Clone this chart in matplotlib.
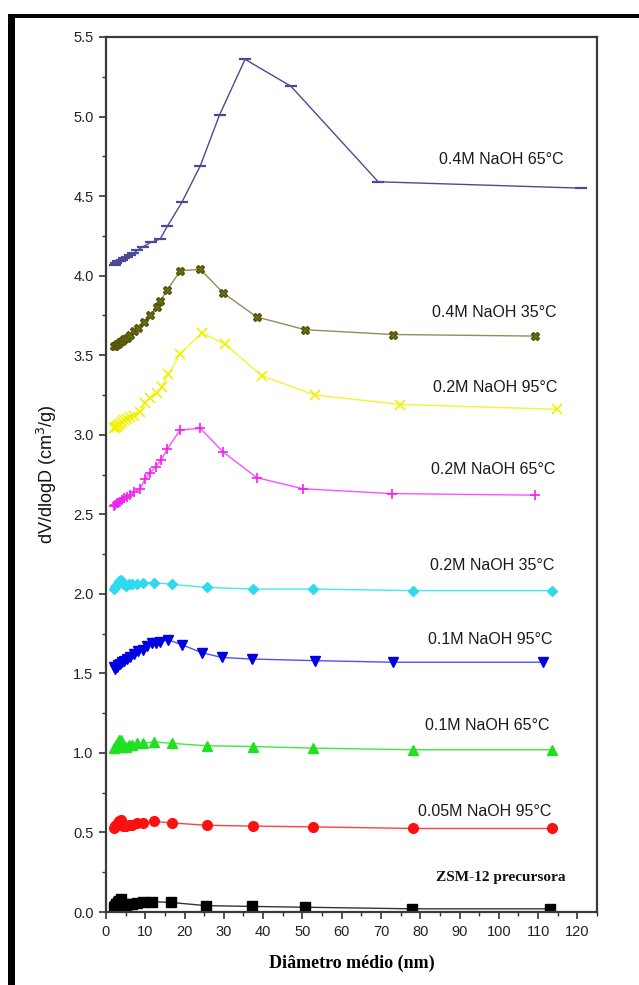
import matplotlib
matplotlib.use("Agg")
import matplotlib.pyplot as plt
from matplotlib.ticker import MultipleLocator, FormatStrFormatter
from matplotlib.patches import Rectangle

# ---------------- data ----------------
x_04_65 = [2.2, 2.5, 3.0, 3.5, 4.0, 4.6, 5.3, 6.1, 7.0, 8.0, 9.3, 11.5, 13.8, 15.6, 19.3, 24.0, 28.9, 35.4, 47.1, 69.3, 120.8]
y_04_65 = [4.07, 4.08, 4.09, 4.09, 4.10, 4.11, 4.12, 4.13, 4.14, 4.16, 4.18, 4.21, 4.23, 4.31, 4.46, 4.69, 5.01, 5.36, 5.19, 4.59, 4.55]

x_04_35 = [2.0, 2.3, 2.7, 3.1, 3.6, 4.1, 4.7, 5.4, 6.2, 7.1, 8.2, 9.7, 11.2, 12.9, 13.8, 15.6, 18.9, 24.0, 29.9, 38.4, 50.7, 73.0, 109.3]
y_04_35 = [3.56, 3.56, 3.57, 3.57, 3.58, 3.59, 3.60, 3.61, 3.63, 3.65, 3.67, 3.71, 3.75, 3.80, 3.84, 3.91, 4.03, 4.04, 3.89, 3.74, 3.66, 3.63, 3.62]

x_02_95 = [2.0, 2.3, 2.7, 3.1, 3.6, 4.1, 4.7, 5.4, 6.2, 7.1, 8.7, 9.9, 11.2, 12.9, 14.2, 15.9, 18.9, 24.4, 30.3, 39.7, 53.2, 74.9, 114.8]
y_02_95 = [3.04, 3.05, 3.05, 3.06, 3.07, 3.08, 3.09, 3.10, 3.11, 3.12, 3.14, 3.20, 3.23, 3.26, 3.30, 3.38, 3.51, 3.64, 3.57, 3.37, 3.25, 3.19, 3.16]

x_02_65 = [2.0, 2.3, 2.7, 3.1, 3.6, 4.1, 4.7, 5.4, 6.2, 7.1, 8.7, 9.9, 11.2, 12.7, 14.0, 15.6, 18.9, 24.0, 29.9, 38.4, 50.2, 72.8, 109.3]
y_02_65 = [2.55, 2.56, 2.57, 2.57, 2.58, 2.59, 2.60, 2.61, 2.62, 2.64, 2.66, 2.72, 2.76, 2.80, 2.84, 2.91, 3.03, 3.04, 2.89, 2.73, 2.66, 2.63, 2.62]

x_02_35 = [2.0, 2.3, 2.6, 3.0, 3.4, 3.8, 4.4, 5.0, 5.8, 6.7, 7.8, 9.5, 12.1, 16.7, 25.6, 37.5, 52.7, 78.1, 113.5]
y_02_35 = [2.03, 2.04, 2.05, 2.07, 2.08, 2.09, 2.06, 2.05, 2.06, 2.06, 2.06, 2.07, 2.07, 2.06, 2.04, 2.03, 2.03, 2.02, 2.02]

x_01_95 = [2.0, 2.3, 2.7, 3.1, 3.6, 4.1, 4.7, 5.4, 6.2, 7.1, 8.2, 9.4, 10.5, 11.6, 12.7, 13.8, 15.9, 19.3, 24.4, 29.5, 37.1, 53.2, 73.0, 111.3]
y_01_95 = [1.54, 1.53, 1.54, 1.55, 1.56, 1.57, 1.58, 1.59, 1.60, 1.62, 1.64, 1.65, 1.67, 1.69, 1.69, 1.70, 1.71, 1.68, 1.63, 1.60, 1.59, 1.58, 1.57, 1.57]

x_01_65 = [2.0, 2.3, 2.6, 3.0, 3.4, 3.8, 4.4, 5.0, 5.8, 6.7, 7.8, 9.5, 12.1, 16.7, 25.6, 37.5, 52.7, 78.1, 113.5]
y_01_65 = [1.03, 1.04, 1.05, 1.07, 1.08, 1.08, 1.04, 1.04, 1.05, 1.05, 1.06, 1.06, 1.07, 1.06, 1.045, 1.04, 1.03, 1.02, 1.02]

x_005_95 = [2.0, 2.3, 2.6, 3.0, 3.4, 3.8, 4.4, 5.0, 5.8, 6.7, 7.8, 9.5, 12.1, 16.7, 25.6, 37.5, 52.7, 78.1, 113.5]
y_005_95 = [0.53, 0.54, 0.55, 0.56, 0.57, 0.58, 0.54, 0.54, 0.55, 0.55, 0.56, 0.56, 0.57, 0.56, 0.545, 0.54, 0.535, 0.525, 0.525]

x_zsm = [2.0, 2.3, 2.6, 3.0, 3.4, 3.8, 4.4, 5.0, 5.8, 6.7, 7.8, 9.5, 11.8, 16.5, 25.5, 37.2, 50.6, 77.8, 113.0]
y_zsm = [0.03, 0.04, 0.05, 0.06, 0.07, 0.08, 0.04, 0.04, 0.05, 0.05, 0.055, 0.06, 0.065, 0.06, 0.04, 0.035, 0.03, 0.02, 0.02]

labels = ["0.4M NaOH 65°C", "0.4M NaOH 35°C", "0.2M NaOH 95°C", "0.2M NaOH 65°C",
          "0.2M NaOH 35°C", "0.1M NaOH 95°C", "0.1M NaOH 65°C", "0.05M NaOH 95°C"]
label_y = [4.73, 3.77, 3.30, 2.78, 2.18, 1.71, 1.175, 0.63]
label_x = [116.5, 114.8, 114.8, 114.5, 114.2, 113.7, 113.0, 113.5]
zsm_label = "ZSM-12 precursora"

xlabel = "Diâmetro médio (nm)"
ylabel = "dV/dlogD (cm$^3$/g)"

# ---------------- figure ----------------
fig = plt.figure(figsize=(6.39, 9.85), dpi=100)
fig.patch.set_facecolor("white")

# black frame (top and left bars)
fig.add_artist(Rectangle((8/639, 0), 7/639, (985-14)/985, transform=fig.transFigure,
                         facecolor="black", edgecolor="none"))
fig.add_artist(Rectangle((8/639, (985-18)/985), 1, 4/985, transform=fig.transFigure,
                         facecolor="black", edgecolor="none"))

ax = fig.add_axes([106/639, (985-912)/985, 491/639, 875/985])

series = [
    (x_04_65, y_04_65, dict(color="#4a4a96", marker="_", ms=8, mew=1.6, lw=1.0)),
    (x_04_35, y_04_35, dict(color="#8f8f5a", marker="X", ms=6, mfc="#6b6b12", mec="#55550a", lw=1.0)),
    (x_02_95, y_02_95, dict(color="#f4f430", marker="x", ms=6.5, mec="#f0f000", mew=1.2, lw=1.0)),
    (x_02_65, y_02_65, dict(color="#ff50ff", marker="+", ms=7, mec="#f020f0", mew=1.2, lw=1.0)),
    (x_02_35, y_02_35, dict(color="#40e8f0", marker="D", ms=5.5, mfc="#30d8f0", mec="#30d8f0", lw=1.0)),
    (x_01_95, y_01_95, dict(color="#5050ff", marker="v", ms=7, mfc="#0000e0", mec="#0000e0", lw=1.0)),
    (x_01_65, y_01_65, dict(color="#40e840", marker="^", ms=7, mfc="#20e020", mec="#20e020", lw=1.0)),
    (x_005_95, y_005_95, dict(color="#ff4040", marker="o", ms=7, mfc="#ff1010", mec="#ff1010", lw=1.0)),
    (x_zsm, y_zsm, dict(color="#333333", marker="s", ms=6.5, mfc="black", mec="black", lw=1.0)),
]
for xs, ys, kw in series:
    ax.plot(xs, ys, **kw)

for t, lx, ly in zip(labels, label_x, label_y):
    ax.text(lx, ly, t, ha="right", va="center", fontsize=11.5,
            family="Liberation Sans", color="#1a1a1a")
ax.text(117, 0.22, zsm_label, ha="right", va="center", fontsize=11,
        family="Liberation Serif", fontweight="bold", color="#111111")

ax.set_xlim(0, 125)
ax.set_ylim(0, 5.5)
ax.xaxis.set_major_locator(MultipleLocator(10))
ax.xaxis.set_minor_locator(MultipleLocator(5))
ax.yaxis.set_major_locator(MultipleLocator(0.5))
ax.yaxis.set_minor_locator(MultipleLocator(0.25))
ax.yaxis.set_major_formatter(FormatStrFormatter("%.1f"))
ax.tick_params(axis="both", which="major", direction="out", length=5, width=1.2,
               color="#333333", labelsize=10.5, pad=4)
ax.tick_params(axis="both", which="minor", direction="out", length=3, width=1.0,
               color="#333333")
for lab in ax.get_xticklabels() + ax.get_yticklabels():
    lab.set_family("Liberation Sans")
    lab.set_color("#222222")
for sp in ax.spines.values():
    sp.set_linewidth(1.6)
    sp.set_color("#3a3a3a")

ax.set_xlabel(xlabel, fontsize=13, family="Liberation Serif", fontweight="bold", labelpad=12)
ax.set_ylabel(ylabel, fontsize=13, family="Liberation Sans", labelpad=10, color="#111111")

fig.savefig("out.png", dpi=100)
